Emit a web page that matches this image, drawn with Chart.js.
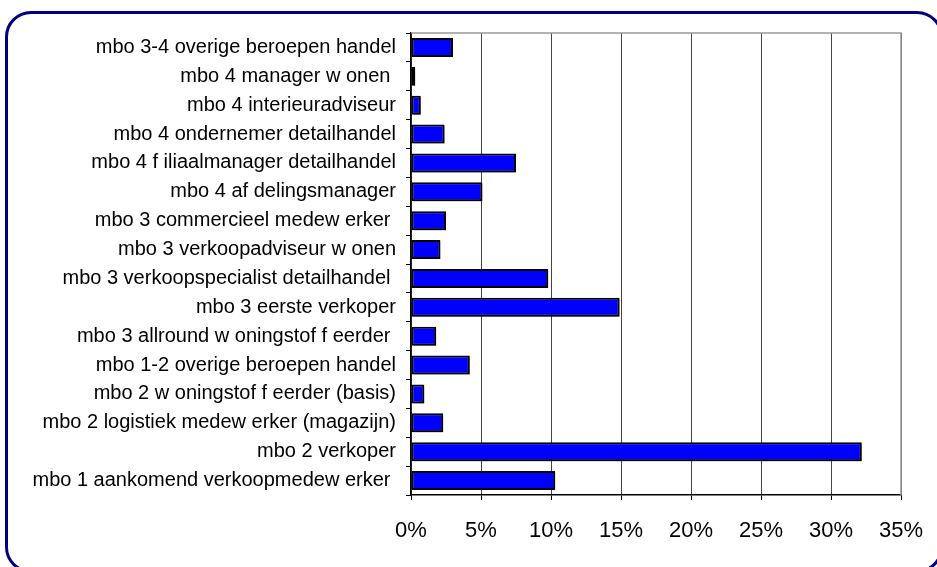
<!DOCTYPE html>
<html>
<head>
<meta charset="utf-8">
<script src="https://cdn.jsdelivr.net/npm/chart.js@4/dist/chart.umd.min.js"></script>
<style>
  html, body { margin: 0; padding: 0; background: #fff; }
  #wrap { position: relative; width: 937px; height: 567px; overflow: hidden; }
  #frame { position: absolute; left: 5px; top: 11px; width: 938px; height: 562px;
           border: 3.5px solid #000080; border-radius: 26px; box-sizing: border-box; }
  #c { position: absolute; left: 0; top: 0; }
</style>
</head>
<body>
<div id="wrap">
  <div id="frame"></div>
  <canvas id="c" width="937" height="567"></canvas>
</div>
<script>
const categories = [
  "mbo 3-4 overige beroepen handel",
  "mbo 4 manager w onen ",
  "mbo 4 interieuradviseur",
  "mbo 4 ondernemer detailhandel",
  "mbo 4 f iliaalmanager detailhandel",
  "mbo 4 af delingsmanager",
  "mbo 3 commercieel medew erker ",
  "mbo 3 verkoopadviseur w onen",
  "mbo 3 verkoopspecialist detailhandel ",
  "mbo 3 eerste verkoper",
  "mbo 3 allround w oningstof f eerder ",
  "mbo 1-2 overige beroepen handel",
  "mbo 2 w oningstof f eerder (basis)",
  "mbo 2 logistiek medew erker (magazijn)",
  "mbo 2 verkoper",
  "mbo 1 aankomend verkoopmedew erker "
];
const shares = [3.0, 0.3, 0.7, 2.4, 7.5, 5.1, 2.5, 2.1, 9.8, 14.9, 1.8, 4.2, 0.95, 2.3, 32.2, 10.3];
const xTicks = [0, 5, 10, 15, 20, 25, 30, 35];

const frameLines = {
  id: 'frameLines',
  afterDraw(chart) {
    const { ctx, chartArea: a } = chart;
    ctx.save();
    ctx.strokeStyle = '#999';
    ctx.lineWidth = 1.5;
    ctx.beginPath();
    ctx.moveTo(a.left, a.top);
    ctx.lineTo(a.right, a.top);
    ctx.lineTo(a.right, a.bottom);
    ctx.stroke();
    ctx.restore();
  }
};
const barShadow = {
  id: 'barShadow',
  beforeDatasetsDraw(chart) {
    const ctx = chart.ctx;
    ctx.save();
    ctx.shadowColor = 'rgba(0,0,0,0.4)';
    ctx.shadowOffsetX = 2;
    ctx.shadowOffsetY = 2;
    ctx.shadowBlur = 0;
  },
  afterDatasetsDraw(chart) { chart.ctx.restore(); }
};

new Chart(document.getElementById('c'), {
  type: 'bar',
  data: {
    labels: categories,
    datasets: [{
      data: shares,
      backgroundColor: '#0000FF',
      borderColor: '#000000',
      borderWidth: 2,
      borderSkipped: false,
      barPercentage: 0.66,
      categoryPercentage: 1.0
    }]
  },
  options: {
    indexAxis: 'y',
    responsive: false,
    animation: false,
    devicePixelRatio: 1,
    layout: { padding: { top: 33, right: 36, left: 0, bottom: 0 } },
    plugins: { legend: { display: false }, tooltip: { enabled: false } },
    scales: {
      x: {
        min: 0, max: 35,
        afterBuildTicks(scale) { scale.ticks = xTicks.map(v => ({ value: v })); },
        afterFit(scale) { scale.height = 72; scale.paddingRight = 0; scale.paddingLeft = 0; },
        ticks: {
          callback: v => v + '%',
          color: '#000',
          padding: 18,
          maxRotation: 0,
          font: { family: 'Liberation Sans, Arial, sans-serif', size: 22 }
        },
        grid: { color: '#444', lineWidth: 1, tickLength: 5, tickColor: '#000' },
        border: { display: true, color: '#000', width: 1.5 }
      },
      y: {
        afterFit(scale) { scale.width = 411; scale.paddingTop = 0; scale.paddingBottom = 0; },
        ticks: {
          color: '#000',
          padding: 10,
          autoSkip: false,
          font: { family: 'Liberation Sans, Arial, sans-serif', size: 20 }
        },
        grid: { offset: true, drawOnChartArea: false, tickLength: 5, color: '#000', tickColor: '#000' },
        border: { display: true, color: '#000', width: 1.5 }
      }
    }
  },
  plugins: [barShadow, frameLines]
});
</script>
</body>
</html>
